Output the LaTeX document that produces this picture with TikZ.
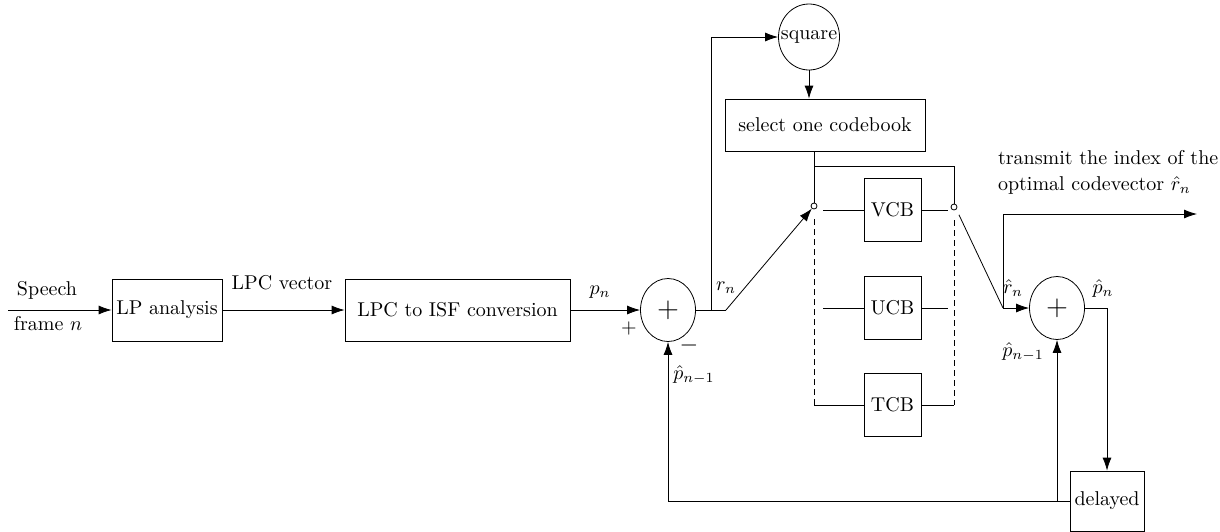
\documentclass[tikz,border=0pt]{standalone}
\usetikzlibrary{arrows.meta,shapes.geometric}
\tikzset{
  >={Latex[length=6.5pt,width=4.5pt]},
  blk/.style={draw,minimum width=#1,minimum height=31pt,inner sep=0pt},
  blk/.default=55pt,
  sumnode/.style={draw,ellipse,minimum width=27.5pt,minimum height=31.5pt,inner sep=0pt,font=\Large},
  contact/.style={draw,circle,minimum size=3pt,inner sep=0pt},
}
\begin{document}
\begin{tikzpicture}[x=0.5pt,y=-0.5pt]
\useasboundingbox (0,0) rectangle (1220,531);
% forward path
\coordinate (in) at (8,310);
\node[blk] (lpa) at (167,310) {LP analysis};
\node[blk=112.5pt] (conv) at (457.5,310) {LPC to ISF conversion};
\node[sumnode] (add1) at (668,310) {$+$};
\draw[->] (in) -- (lpa);
\node at (47,290) {Speech};
\node at (48,324) {frame $n$};
\draw[->] (lpa) -- (conv);
\node at (282,283) {LPC vector};
\draw[->] (conv) -- (add1);
\node at (600,292) {$p_n$};
\node at (629,328) {$+$};
\node[font=\large] at (689,345) {$-$};
% square and codebook selection
\node[draw,ellipse,minimum width=30.5pt,minimum height=33pt,inner sep=0pt,label=center:square] (sq) at (809,37) {};
\node[blk=100pt,minimum height=26pt] (sel) at (825,125) {select one codebook};
\draw[->] (sq.south) -- (sq.south |- sel.north);
\draw (add1.east) -- (726,310) coordinate (rn);
\coordinate (tap) at (711,310);
\draw[->] (tap) |- (sq.west);
% switch contacts
\node[contact] (c1) at (814,206) {};
\node[contact] (c2) at (954,207) {};
\draw[->] (rn) -- (c1);
\node at (726,288) {$r_n$};
\coordinate (bus) at (814,166);
\draw (sel.south -| c1) -- (c1.north);
\draw (bus) -| (c2.north);
% codebooks
\foreach \cb/\yy in {VCB/210,UCB/308,TCB/405}
  \node[blk=28.5pt,minimum height=31.5pt] (\cb) at (892.5,\yy) {\cb};
\foreach \cb in {VCB,UCB}
{
  \draw (\cb.west) -- ++(-41,0);
  \draw (\cb.east) -- ++(27,0);
}
\draw[dash pattern=on 3pt off 2pt] ([yshift=-5pt]c1.south) -- (c1 |- TCB);
\draw (c1 |- TCB) -- (TCB.west);
\draw[dash pattern=on 3pt off 2pt] ([yshift=-5pt]c2.south) -- (c2 |- TCB);
\draw (c2 |- TCB) -- (TCB.east);
% output side
\coordinate (rh) at (1003,308);
\coordinate (out) at (1197,214);
\draw[shorten <=3pt] (c2.south east) -- (rh);
\node[sumnode] (add2) at (1057,308) {$+$};
\draw[->] (rh) -- (add2);
\draw[->] (rh) |- (out);
\node[align=left,anchor=west] at (991,172) {transmit the index of the\\[1pt]optimal codevector $\hat{r}_n$};
\node at (1013,288) {$\hat{r}_n$};
\node at (1103,288) {$\hat{p}_n$};
\node at (1023,352) {$\hat{p}_{n-1}$};
% delay and feedback
\node[blk=37pt,minimum height=30pt] (dly) at (1107,501) {delayed};
\draw[->] (add2.east) -| (dly.north);
\draw[->] (dly.west) -| (add1.south);
\draw[->] (add2 |- dly.west) -- (add2.south);
\node at (694,375) {$\hat{p}_{n-1}$};
\end{tikzpicture}
\end{document}
